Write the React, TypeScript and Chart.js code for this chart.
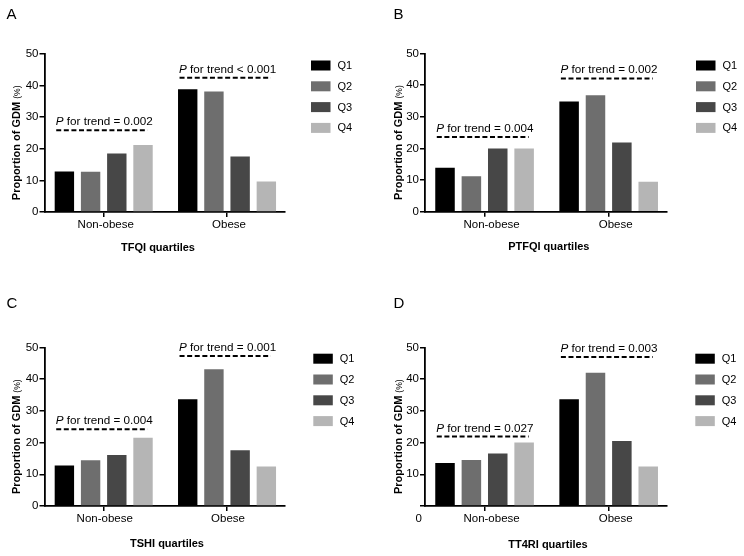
import type { ReactNode } from "react";
import { useEffect, useRef } from "react";
import { Chart, registerables } from "chart.js";
import type { Plugin } from "chart.js";

Chart.register(...registerables);

const FONT = "'Liberation Sans', Arial, Helvetica, sans-serif";
const W = 372;
const H = 278;

const groups = ["Non-obese", "Obese"];
const quartiles = ["Q1", "Q2", "Q3", "Q4"];
const quartileColors = ["#000000", "#6e6e6e", "#474747", "#b5b5b5"];

// proportion of GDM (%), Q1..Q4 per obesity group
const tfqiNonObese = [12.8, 12.7, 18.5, 21.2];
const tfqiObese = [38.8, 38.1, 17.5, 9.6];
const ptfqiNonObese = [13.9, 11.2, 20.0, 20.0];
const ptfqiObese = [34.8, 36.8, 21.9, 9.5];
const tshiNonObese = [12.8, 14.4, 16.1, 21.5];
const tshiObese = [33.7, 43.1, 17.6, 12.5];
const tt4riNonObese = [13.6, 14.5, 16.6, 20.0];
const tt4riObese = [33.7, 42.0, 20.5, 12.5];

// P for trend text and the level of its dashed line, per group
const tfqiTrend = ["= 0.002", "< 0.001"];
const tfqiTrendLevel = [25.8, 42.4];
const ptfqiTrend = ["= 0.004", "= 0.002"];
const ptfqiTrendLevel = [23.6, 42.1];
const tshiTrend = ["= 0.004", "= 0.001"];
const tshiTrendLevel = [24.2, 47.3];
const tt4riTrend = ["= 0.027", "= 0.003"];
const tt4riTrendLevel = [21.9, 47.0];

type PanelOpts = {
  letter: string;
  letterX: number;
  letterY: number;
  xTitle: string;
  xTitleX: number;
  xTitleY: number;
  yTitleX: number;
  legendX: number;
  legendY: number;
  trendText: string[];
  trendLevel: number[];
  zeroLabelX?: number;
};

const panelDecor: Plugin<"bar"> = {
  id: "panelDecor",
  afterDraw(chart, _args, opts: any) {
    const o = opts as PanelOpts;
    const { ctx, chartArea } = chart;
    const x = chart.scales.x;
    const y = chart.scales.y;
    ctx.save();
    ctx.fillStyle = "#000";
    ctx.strokeStyle = "#000";

    // panel letter
    ctx.font = `15px ${FONT}`;
    ctx.textAlign = "left";
    ctx.textBaseline = "alphabetic";
    ctx.fillText(o.letter, o.letterX, o.letterY);

    // x title
    ctx.font = `bold 11px ${FONT}`;
    ctx.textAlign = "center";
    ctx.textBaseline = "middle";
    ctx.fillText(o.xTitle, o.xTitleX, o.xTitleY);

    // y title with small (%)
    ctx.save();
    ctx.translate(o.yTitleX, (chartArea.top + chartArea.bottom) / 2 + 10);
    ctx.rotate(-Math.PI / 2);
    ctx.textAlign = "left";
    ctx.textBaseline = "alphabetic";
    const main = "Proportion of GDM ";
    const small = "(%)";
    ctx.font = `bold 11px ${FONT}`;
    const w1 = ctx.measureText(main).width;
    ctx.font = `8.5px ${FONT}`;
    const w2 = ctx.measureText(small).width;
    const start = -(w1 + w2) / 2;
    ctx.font = `bold 11px ${FONT}`;
    ctx.fillText(main, start, 4);
    ctx.font = `8.5px ${FONT}`;
    ctx.fillText(small, start + w1, 3.5);
    ctx.restore();

    // dashed trend lines and P text
    o.trendLevel.forEach((level, i) => {
      const x0 = x.getPixelForValue(i - 0.385);
      const x1 = x.getPixelForValue(i + 0.355);
      const yy = y.getPixelForValue(level);
      ctx.lineWidth = 2;
      ctx.setLineDash([5, 2.6]);
      ctx.beginPath();
      ctx.moveTo(x0, yy);
      ctx.lineTo(x1, yy);
      ctx.stroke();
      ctx.setLineDash([]);
      ctx.textAlign = "left";
      ctx.textBaseline = "alphabetic";
      ctx.font = `italic 11.7px ${FONT}`;
      ctx.fillText("P", x0 - 0.5, yy - 5);
      const pw = ctx.measureText("P").width;
      ctx.font = `11.7px ${FONT}`;
      ctx.fillText(` for trend ${o.trendText[i]}`, x0 - 0.5 + pw, yy - 5);
    });

    // legend
    chart.data.datasets.forEach((ds, i) => {
      const by = o.legendY + i * 20.8;
      ctx.fillStyle = ds.backgroundColor as string;
      ctx.fillRect(o.legendX, by, 19.5, 10);
      ctx.fillStyle = "#000";
      ctx.font = `11px ${FONT}`;
      ctx.textAlign = "left";
      ctx.textBaseline = "middle";
      ctx.fillText(String(ds.label), o.legendX + 26.5, by + 5.5);
    });

    // detached zero label (panel D)
    if (o.zeroLabelX !== undefined) {
      ctx.font = `11.5px ${FONT}`;
      ctx.textAlign = "center";
      ctx.textBaseline = "middle";
      ctx.fillText("0", o.zeroLabelX, chartArea.bottom + 13);
    }
    ctx.restore();
  },
};

function Panel(props: Panel.Props): ReactNode {
  const { left, top, area, labelOffset, hideZero, nonObese, obese, decor } = props;
  const canvasRef = useRef<HTMLCanvasElement | null>(null);

  useEffect(() => {
    if (!canvasRef.current) return;
    const datasets = quartiles.map((q, i) => ({
      label: q,
      data: [
        { x: 0, y: nonObese[i] },
        { x: 1, y: obese[i] },
      ],
      backgroundColor: quartileColors[i],
      borderWidth: 0,
      categoryPercentage: 0.85,
      barPercentage: 0.74,
    }));

    const chart = new Chart(canvasRef.current, {
      type: "bar",
      data: { datasets },
      plugins: [panelDecor],
      options: {
        animation: false,
        responsive: false,
        layout: { padding: { left: 0, top: area.top, right: W - area.right, bottom: 0 } },
        plugins: {
          legend: { display: false },
          tooltip: { enabled: false },
          panelDecor: decor,
        } as any,
        scales: {
          x: {
            type: "linear",
            min: -0.48,
            max: 1.47,
            offset: false,
            afterBuildTicks: (s: any) => {
              s.ticks = groups.map((_, i) => ({ value: i }));
            },
            afterFit: (s: any) => {
              s.height = H - area.bottom;
            },
            ticks: {
              autoSkip: false,
              maxRotation: 0,
              padding: 1,
              labelOffset,
              color: "#000",
              font: { family: FONT, size: 11.5 },
              callback: (_v: any, i: number) => groups[i],
            },
            grid: {
              display: true,
              drawOnChartArea: false,
              drawTicks: true,
              tickLength: 5,
              color: "#000",
              lineWidth: 1.5,
              offset: false,
            },
            border: { display: true, color: "#000", width: 1.8 },
          },
          y: {
            type: "linear",
            min: 0,
            max: 50,
            afterFit: (s: any) => {
              s.width = area.left;
            },
            ticks: {
              stepSize: 10,
              padding: 1,
              color: "#000",
              font: { family: FONT, size: 11.5 },
              callback: (v: any) => (hideZero && v === 0 ? "" : String(v)),
            },
            grid: {
              display: true,
              drawOnChartArea: false,
              drawTicks: true,
              tickLength: 5,
              color: "#000",
              lineWidth: 1.5,
            },
            border: { display: true, color: "#000", width: 1.8 },
          },
        },
      } as any,
    });

    return () => chart.destroy();
  }, [left, top, area, labelOffset, hideZero, nonObese, obese, decor]);

  return (
    <canvas
      ref={canvasRef}
      width={W}
      height={H}
      style={{ position: "absolute", left, top, width: W, height: H }}
    />
  );
}

namespace Panel {
  export type Props = {
    left: number;
    top: number;
    area: { left: number; right: number; top: number; bottom: number };
    labelOffset: number;
    hideZero?: boolean;
    nonObese: number[];
    obese: number[];
    decor: PanelOpts;
  };
}

export default function App(): ReactNode {
  return (
    <div
      style={{
        position: "absolute",
        left: 0,
        top: 0,
        width: 744,
        height: 556,
        background: "#fff",
        overflow: "hidden",
      }}
    >
      <Panel
        left={0}
        top={0}
        area={{ left: 44.5, right: 285, top: 53.7, bottom: 212 }}
        labelOffset={2}
        nonObese={tfqiNonObese}
        obese={tfqiObese}
        decor={{
          letter: "A", letterX: 6.5, letterY: 19,
          xTitle: "TFQI quartiles", xTitleX: 158, xTitleY: 247.7,
          yTitleX: 16, legendX: 311, legendY: 60.5,
          trendText: tfqiTrend, trendLevel: tfqiTrendLevel,
        }}
      />
      <Panel
        left={372}
        top={0}
        area={{ left: 53, right: 295, top: 53.5, bottom: 211.7 }}
        labelOffset={7}
        nonObese={ptfqiNonObese}
        obese={ptfqiObese}
        decor={{
          letter: "B", letterX: 21.5, letterY: 19,
          xTitle: "PTFQI quartiles", xTitleX: 176.8, xTitleY: 246.7,
          yTitleX: 26, legendX: 324, legendY: 60.5,
          trendText: ptfqiTrend, trendLevel: ptfqiTrendLevel,
        }}
      />
      <Panel
        left={0}
        top={278}
        area={{ left: 44.5, right: 285, top: 69.5, bottom: 228 }}
        labelOffset={1}
        nonObese={tshiNonObese}
        obese={tshiObese}
        decor={{
          letter: "C", letterX: 6.5, letterY: 30,
          xTitle: "TSHI quartiles", xTitleX: 167, xTitleY: 266,
          yTitleX: 16, legendX: 313.3, legendY: 75.7,
          trendText: tshiTrend, trendLevel: tshiTrendLevel,
        }}
      />
      <Panel
        left={372}
        top={278}
        area={{ left: 53, right: 295, top: 69.5, bottom: 228 }}
        labelOffset={7}
        hideZero
        nonObese={tt4riNonObese}
        obese={tt4riObese}
        decor={{
          letter: "D", letterX: 21.5, letterY: 30,
          xTitle: "TT4RI quartiles", xTitleX: 176, xTitleY: 266.5,
          yTitleX: 26, legendX: 323.3, legendY: 75.7,
          trendText: tt4riTrend, trendLevel: tt4riTrendLevel,
          zeroLabelX: 46.7,
        }}
      />
    </div>
  );
}
